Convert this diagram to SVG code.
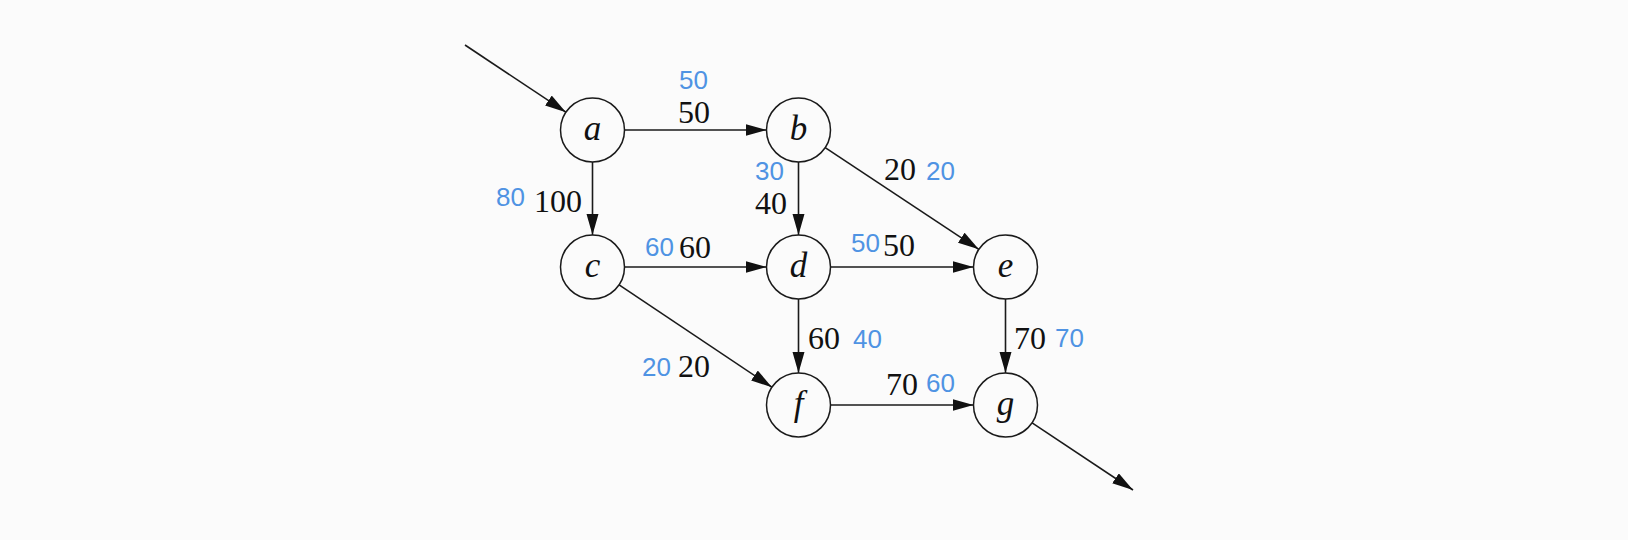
<svg xmlns="http://www.w3.org/2000/svg" width="1628" height="540" viewBox="0 0 1628 540">
<style>
.bg{fill:#fbfbfb}
.node circle{fill:#fbfbfb;stroke:#1a1a1a;stroke-width:1.5}
.node text{font-family:"Liberation Serif",serif;font-style:italic;font-size:35px;fill:#111;text-anchor:middle}
.edge{stroke:#1a1a1a;stroke-width:1.6;fill:none;marker-end:url(#arr)}
.lb{font-family:"Liberation Serif",serif;font-size:32px;fill:#111}
.lf{font-family:"Liberation Sans",sans-serif;font-size:26px;fill:#4f93e3}
</style>
<defs>
<marker id="arr" markerUnits="userSpaceOnUse" markerWidth="22" markerHeight="13" refX="21" refY="6" orient="auto">
<path d="M0,0 L21,6 L0,12 Z" fill="#111"/>
</marker>
</defs>
<rect class="bg" x="0" y="0" width="1628" height="540"/>
<g id="connectors">
<line class="edge" x1="465" y1="45" x2="565.9" y2="112.2"/>
<line class="edge" x1="624.5" y1="130" x2="766.5" y2="130"/>
<line class="edge" x1="592.5" y1="162" x2="592.5" y2="235"/>
<line class="edge" x1="798.5" y1="162" x2="798.5" y2="235"/>
<line class="edge" x1="825.2" y1="147.7" x2="978.8" y2="249.3"/>
<line class="edge" x1="624.5" y1="267" x2="766.5" y2="267"/>
<line class="edge" x1="619.1" y1="284.8" x2="771.9" y2="387.2"/>
<line class="edge" x1="830.5" y1="267" x2="973.5" y2="267"/>
<line class="edge" x1="798.5" y1="299" x2="798.5" y2="373"/>
<line class="edge" x1="1005.5" y1="299" x2="1005.5" y2="373"/>
<line class="edge" x1="830.5" y1="405" x2="973.5" y2="405"/>
<line class="edge" x1="1032.1" y1="422.8" x2="1133" y2="490"/>
</g>
<g id="labels">
<text class="lf" x="679" y="89">50</text>
<text class="lb" x="678" y="123">50</text>
<text class="lf" x="496" y="206">80</text>
<text class="lb" x="534" y="212">100</text>
<text class="lf" x="755" y="180">30</text>
<text class="lb" x="755" y="214">40</text>
<text class="lb" x="884" y="180">20</text>
<text class="lf" x="926" y="180">20</text>
<text class="lf" x="645" y="256">60</text>
<text class="lb" x="679" y="258">60</text>
<text class="lf" x="851" y="252">50</text>
<text class="lb" x="883" y="256">50</text>
<text class="lf" x="642" y="376">20</text>
<text class="lb" x="678" y="377">20</text>
<text class="lb" x="808" y="349">60</text>
<text class="lf" x="853" y="348">40</text>
<text class="lb" x="1014" y="349">70</text>
<text class="lf" x="1055" y="347">70</text>
<text class="lb" x="886" y="395">70</text>
<text class="lf" x="926" y="392">60</text>
</g>
<g id="node-a" class="node"><circle cx="592.5" cy="130" r="32"/><text x="592.5" y="140">a</text></g>
<g id="node-b" class="node"><circle cx="798.5" cy="130" r="32"/><text x="798.5" y="140">b</text></g>
<g id="node-c" class="node"><circle cx="592.5" cy="267" r="32"/><text x="592.5" y="277">c</text></g>
<g id="node-d" class="node"><circle cx="798.5" cy="267" r="32"/><text x="798.5" y="277">d</text></g>
<g id="node-e" class="node"><circle cx="1005.5" cy="267" r="32"/><text x="1005.5" y="277">e</text></g>
<g id="node-f" class="node"><circle cx="798.5" cy="405" r="32"/><text x="798.5" y="415">f</text></g>
<g id="node-g" class="node"><circle cx="1005.5" cy="405" r="32"/><text x="1005.5" y="415">g</text></g>
</svg>
